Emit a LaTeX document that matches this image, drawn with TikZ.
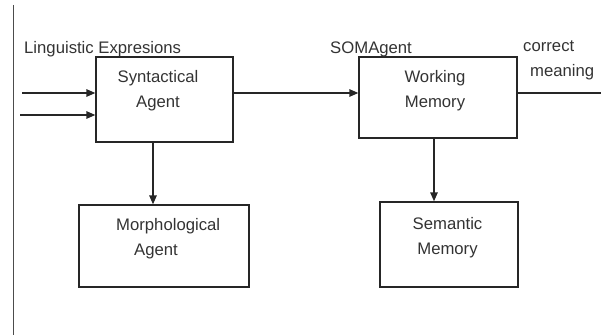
\documentclass[tikz,border=0pt]{standalone}
\usepackage{fontspec}
\setmainfont{Liberation Sans}
\usetikzlibrary{arrows.meta}
\begin{document}
\begin{tikzpicture}[x=1pt,y=1pt,
  box/.style={draw=black!85,line width=1.4pt,minimum width=#1,inner sep=0pt},
  lbl/.style={text=black!80,font=\fontsize{16.7}{25}\selectfont,inner sep=0pt},
  conn/.style={draw=black!85,line width=1.4pt},
  arr/.style={conn,-{Triangle[length=9pt,width=7.5pt]}}]
\useasboundingbox (0,0) rectangle (601,335);
% left rule
\coordinate (rt) at (13,330);
\coordinate (rb) at (13,0);
\draw[black!70,line width=1pt] (rt) -- (rb);
% boxes
\node[box=137pt,minimum height=85pt] (syn) at (164.5,235.5) {};
\node[box=158pt,minimum height=81pt] (wm) at (438,237.5) {};
\node[box=170pt,minimum height=82pt] (mor) at (164,89) {};
\node[box=138pt,minimum height=85pt] (sem) at (449,90.5) {};
% texts
\node[lbl,align=center] (tsyn) at (158,244) {Syntactical\\Agent};
\node[lbl,align=center] (twm) at (435,244.5) {Working\\Memory};
\node[lbl,align=left,anchor=west] (tmor) at (116,96.5) {Morphological\\\hspace*{18pt}Agent};
\node[lbl,align=center] (tsem) at (447.5,97.5) {Semantic\\Memory};
\node[lbl,anchor=west] (tling) at (24,286) {Linguistic Expresions};
\node[lbl,anchor=west] (tsom) at (330,285.5) {SOMAgent};
\node[lbl,align=left,anchor=west] (tcor) at (523,275) {correct\\\hspace*{7pt}meaning};
% inputs
\coordinate (in1) at (22,242);
\coordinate (in2) at (20,220);
\draw[arr] (in1) -- (syn.west |- in1);
\draw[arr] (in2) -- (syn.west |- in2);
\draw[arr] (syn.east |- in1) -- (wm.west |- in1);
\coordinate (out) at (601,242);
\draw[conn] (wm.east |- out) -- (out);
\coordinate (d1) at (153,0);
\coordinate (d2) at (434,0);
\draw[arr] (syn.south -| d1) -- (mor.north -| d1);
\draw[arr] (wm.south -| d2) -- (sem.north -| d2);
\end{tikzpicture}
\end{document}
